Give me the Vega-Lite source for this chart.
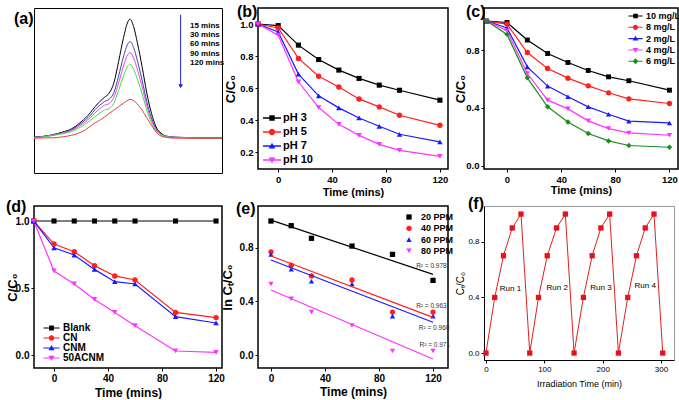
{
"$schema": "https://vega.github.io/schema/vega-lite/v6.json",
"padding": {"left": 5, "top": 3, "right": 0, "bottom": 0},
"autosize": {"type": "pad"},
"columns": 3,
"bounds": "flush",
"spacing": {"row": 33, "column": 36},
"resolve": {"scale": {"color": "independent", "shape": "independent"}, "legend": {"color": "independent", "shape": "independent"}},
"config": {
  "font": "Liberation Sans Narrow, Liberation Sans, sans-serif",
  "view": {"stroke": "black", "strokeWidth": 1.5},
  "axis": {"grid": false, "domain": false, "labelFontWeight": "bold", "titleFontWeight": "bold", "labelColor": "black", "titleColor": "black", "tickColor": "black", "labelFontSize": 9.5, "titleFontSize": 11, "tickSize": 3, "labelPadding": 2, "titlePadding": 2, "labelFont": "Liberation Sans Narrow, Liberation Sans, sans-serif", "titleFont": "Liberation Sans Narrow, Liberation Sans, sans-serif"},
  "legend": {"padding": 0, "labelFontWeight": "bold", "labelColor": "black", "title": null, "labelFont": "Liberation Sans Narrow, Liberation Sans, sans-serif"},
  "title": {"fontSize": 16, "fontWeight": "bold", "color": "black", "font": "Liberation Sans, sans-serif"}
},
"datasets": {
  "a": [
    {"wl":450,"abs":0.21,"t":"15 mins"},{"wl":470,"abs":0.225,"t":"15 mins"},{"wl":480,"abs":0.24,"t":"15 mins"},{"wl":490,"abs":0.26,"t":"15 mins"},{"wl":500,"abs":0.30,"t":"15 mins"},{"wl":505,"abs":0.325,"t":"15 mins"},{"wl":510,"abs":0.355,"t":"15 mins"},{"wl":515,"abs":0.39,"t":"15 mins"},{"wl":520,"abs":0.42,"t":"15 mins"},{"wl":525,"abs":0.445,"t":"15 mins"},{"wl":530,"abs":0.47,"t":"15 mins"},{"wl":535,"abs":0.53,"t":"15 mins"},{"wl":540,"abs":0.655,"t":"15 mins"},{"wl":545,"abs":0.79,"t":"15 mins"},{"wl":550,"abs":0.89,"t":"15 mins"},{"wl":552,"abs":0.905,"t":"15 mins"},{"wl":556,"abs":0.86,"t":"15 mins"},{"wl":560,"abs":0.765,"t":"15 mins"},{"wl":565,"abs":0.625,"t":"15 mins"},{"wl":570,"abs":0.47,"t":"15 mins"},{"wl":575,"abs":0.35,"t":"15 mins"},{"wl":580,"abs":0.27,"t":"15 mins"},{"wl":585,"abs":0.235,"t":"15 mins"},{"wl":590,"abs":0.218,"t":"15 mins"},{"wl":600,"abs":0.21,"t":"15 mins"},{"wl":650,"abs":0.205,"t":"15 mins"},
    {"wl":450,"abs":0.21,"t":"30 mins"},{"wl":470,"abs":0.2235,"t":"30 mins"},{"wl":480,"abs":0.237,"t":"30 mins"},{"wl":490,"abs":0.255,"t":"30 mins"},{"wl":500,"abs":0.291,"t":"30 mins"},{"wl":505,"abs":0.3135,"t":"30 mins"},{"wl":510,"abs":0.34,"t":"30 mins"},{"wl":515,"abs":0.372,"t":"30 mins"},{"wl":520,"abs":0.399,"t":"30 mins"},{"wl":525,"abs":0.42,"t":"30 mins"},{"wl":530,"abs":0.434,"t":"30 mins"},{"wl":535,"abs":0.473,"t":"30 mins"},{"wl":540,"abs":0.57,"t":"30 mins"},{"wl":545,"abs":0.68,"t":"30 mins"},{"wl":550,"abs":0.761,"t":"30 mins"},{"wl":552,"abs":0.773,"t":"30 mins"},{"wl":556,"abs":0.737,"t":"30 mins"},{"wl":560,"abs":0.66,"t":"30 mins"},{"wl":565,"abs":0.546,"t":"30 mins"},{"wl":570,"abs":0.42,"t":"30 mins"},{"wl":575,"abs":0.323,"t":"30 mins"},{"wl":580,"abs":0.259,"t":"30 mins"},{"wl":585,"abs":0.23,"t":"30 mins"},{"wl":590,"abs":0.216,"t":"30 mins"},{"wl":600,"abs":0.21,"t":"30 mins"},{"wl":650,"abs":0.205,"t":"30 mins"},
    {"wl":450,"abs":0.208,"t":"60 mins"},{"wl":470,"abs":0.222,"t":"60 mins"},{"wl":480,"abs":0.234,"t":"60 mins"},{"wl":490,"abs":0.25,"t":"60 mins"},{"wl":500,"abs":0.282,"t":"60 mins"},{"wl":505,"abs":0.302,"t":"60 mins"},{"wl":510,"abs":0.326,"t":"60 mins"},{"wl":515,"abs":0.354,"t":"60 mins"},{"wl":520,"abs":0.378,"t":"60 mins"},{"wl":525,"abs":0.398,"t":"60 mins"},{"wl":530,"abs":0.408,"t":"60 mins"},{"wl":535,"abs":0.445,"t":"60 mins"},{"wl":540,"abs":0.529,"t":"60 mins"},{"wl":545,"abs":0.626,"t":"60 mins"},{"wl":550,"abs":0.698,"t":"60 mins"},{"wl":552,"abs":0.708,"t":"60 mins"},{"wl":556,"abs":0.676,"t":"60 mins"},{"wl":560,"abs":0.608,"t":"60 mins"},{"wl":565,"abs":0.508,"t":"60 mins"},{"wl":570,"abs":0.396,"t":"60 mins"},{"wl":575,"abs":0.31,"t":"60 mins"},{"wl":580,"abs":0.253,"t":"60 mins"},{"wl":585,"abs":0.228,"t":"60 mins"},{"wl":590,"abs":0.216,"t":"60 mins"},{"wl":600,"abs":0.21,"t":"60 mins"},{"wl":650,"abs":0.205,"t":"60 mins"},
    {"wl":450,"abs":0.206,"t":"90 mins"},{"wl":470,"abs":0.22,"t":"90 mins"},{"wl":480,"abs":0.23,"t":"90 mins"},{"wl":490,"abs":0.244,"t":"90 mins"},{"wl":500,"abs":0.271,"t":"90 mins"},{"wl":505,"abs":0.288,"t":"90 mins"},{"wl":510,"abs":0.309,"t":"90 mins"},{"wl":515,"abs":0.332,"t":"90 mins"},{"wl":520,"abs":0.353,"t":"90 mins"},{"wl":525,"abs":0.37,"t":"90 mins"},{"wl":530,"abs":0.379,"t":"90 mins"},{"wl":535,"abs":0.41,"t":"90 mins"},{"wl":540,"abs":0.485,"t":"90 mins"},{"wl":545,"abs":0.568,"t":"90 mins"},{"wl":550,"abs":0.63,"t":"90 mins"},{"wl":552,"abs":0.639,"t":"90 mins"},{"wl":556,"abs":0.611,"t":"90 mins"},{"wl":560,"abs":0.552,"t":"90 mins"},{"wl":565,"abs":0.466,"t":"90 mins"},{"wl":570,"abs":0.37,"t":"90 mins"},{"wl":575,"abs":0.296,"t":"90 mins"},{"wl":580,"abs":0.247,"t":"90 mins"},{"wl":585,"abs":0.225,"t":"90 mins"},{"wl":590,"abs":0.215,"t":"90 mins"},{"wl":600,"abs":0.208,"t":"90 mins"},{"wl":650,"abs":0.204,"t":"90 mins"},
    {"wl":450,"abs":0.205,"t":"120 mins"},{"wl":470,"abs":0.207,"t":"120 mins"},{"wl":480,"abs":0.212,"t":"120 mins"},{"wl":490,"abs":0.222,"t":"120 mins"},{"wl":500,"abs":0.24,"t":"120 mins"},{"wl":505,"abs":0.255,"t":"120 mins"},{"wl":510,"abs":0.275,"t":"120 mins"},{"wl":515,"abs":0.295,"t":"120 mins"},{"wl":520,"abs":0.31,"t":"120 mins"},{"wl":525,"abs":0.33,"t":"120 mins"},{"wl":530,"abs":0.35,"t":"120 mins"},{"wl":535,"abs":0.37,"t":"120 mins"},{"wl":540,"abs":0.39,"t":"120 mins"},{"wl":545,"abs":0.41,"t":"120 mins"},{"wl":550,"abs":0.428,"t":"120 mins"},{"wl":552,"abs":0.433,"t":"120 mins"},{"wl":556,"abs":0.425,"t":"120 mins"},{"wl":560,"abs":0.405,"t":"120 mins"},{"wl":565,"abs":0.37,"t":"120 mins"},{"wl":570,"abs":0.325,"t":"120 mins"},{"wl":575,"abs":0.28,"t":"120 mins"},{"wl":580,"abs":0.24,"t":"120 mins"},{"wl":585,"abs":0.218,"t":"120 mins"},{"wl":590,"abs":0.21,"t":"120 mins"},{"wl":600,"abs":0.205,"t":"120 mins"},{"wl":650,"abs":0.204,"t":"120 mins"}
  ],
  "arrow": [{"wl": 606, "abs": 0.93, "abs2": 0.51}],
  "b": [
    {"t":-15,"v":1.0,"s":"pH 3"},{"t":0,"v":0.99,"s":"pH 3"},{"t":15,"v":0.868,"s":"pH 3"},{"t":30,"v":0.778,"s":"pH 3"},{"t":45,"v":0.712,"s":"pH 3"},{"t":60,"v":0.66,"s":"pH 3"},{"t":75,"v":0.618,"s":"pH 3"},{"t":90,"v":0.586,"s":"pH 3"},{"t":120,"v":0.524,"s":"pH 3"},
    {"t":-15,"v":1.0,"s":"pH 5"},{"t":0,"v":0.975,"s":"pH 5"},{"t":15,"v":0.785,"s":"pH 5"},{"t":30,"v":0.674,"s":"pH 5"},{"t":45,"v":0.607,"s":"pH 5"},{"t":60,"v":0.532,"s":"pH 5"},{"t":75,"v":0.482,"s":"pH 5"},{"t":90,"v":0.43,"s":"pH 5"},{"t":120,"v":0.367,"s":"pH 5"},
    {"t":-15,"v":1.0,"s":"pH 7"},{"t":0,"v":0.95,"s":"pH 7"},{"t":15,"v":0.687,"s":"pH 7"},{"t":30,"v":0.551,"s":"pH 7"},{"t":45,"v":0.476,"s":"pH 7"},{"t":60,"v":0.413,"s":"pH 7"},{"t":75,"v":0.361,"s":"pH 7"},{"t":90,"v":0.311,"s":"pH 7"},{"t":120,"v":0.263,"s":"pH 7"},
    {"t":-15,"v":1.0,"s":"pH 10"},{"t":0,"v":0.93,"s":"pH 10"},{"t":15,"v":0.639,"s":"pH 10"},{"t":30,"v":0.478,"s":"pH 10"},{"t":45,"v":0.373,"s":"pH 10"},{"t":60,"v":0.304,"s":"pH 10"},{"t":75,"v":0.248,"s":"pH 10"},{"t":90,"v":0.21,"s":"pH 10"},{"t":120,"v":0.173,"s":"pH 10"}
  ],
  "c": [
    {"t":-15,"v":1.0,"s":"10 mg/L"},{"t":0,"v":0.99,"s":"10 mg/L"},{"t":15,"v":0.869,"s":"10 mg/L"},{"t":30,"v":0.776,"s":"10 mg/L"},{"t":45,"v":0.714,"s":"10 mg/L"},{"t":60,"v":0.659,"s":"10 mg/L"},{"t":75,"v":0.615,"s":"10 mg/L"},{"t":90,"v":0.588,"s":"10 mg/L"},{"t":120,"v":0.523,"s":"10 mg/L"},
    {"t":-15,"v":1.0,"s":"8 mg/L"},{"t":0,"v":0.979,"s":"8 mg/L"},{"t":15,"v":0.783,"s":"8 mg/L"},{"t":30,"v":0.673,"s":"8 mg/L"},{"t":45,"v":0.606,"s":"8 mg/L"},{"t":60,"v":0.553,"s":"8 mg/L"},{"t":75,"v":0.505,"s":"8 mg/L"},{"t":90,"v":0.463,"s":"8 mg/L"},{"t":120,"v":0.431,"s":"8 mg/L"},
    {"t":-15,"v":1.0,"s":"2 mg/L"},{"t":0,"v":0.952,"s":"2 mg/L"},{"t":15,"v":0.684,"s":"2 mg/L"},{"t":30,"v":0.551,"s":"2 mg/L"},{"t":45,"v":0.477,"s":"2 mg/L"},{"t":60,"v":0.408,"s":"2 mg/L"},{"t":75,"v":0.357,"s":"2 mg/L"},{"t":90,"v":0.309,"s":"2 mg/L"},{"t":120,"v":0.297,"s":"2 mg/L"},
    {"t":-15,"v":1.0,"s":"4 mg/L"},{"t":0,"v":0.933,"s":"4 mg/L"},{"t":15,"v":0.638,"s":"4 mg/L"},{"t":30,"v":0.454,"s":"4 mg/L"},{"t":45,"v":0.394,"s":"4 mg/L"},{"t":60,"v":0.311,"s":"4 mg/L"},{"t":75,"v":0.258,"s":"4 mg/L"},{"t":90,"v":0.228,"s":"4 mg/L"},{"t":120,"v":0.212,"s":"4 mg/L"},
    {"t":-15,"v":1.0,"s":"6 mg/L"},{"t":0,"v":0.908,"s":"6 mg/L"},{"t":15,"v":0.608,"s":"6 mg/L"},{"t":30,"v":0.408,"s":"6 mg/L"},{"t":45,"v":0.304,"s":"6 mg/L"},{"t":60,"v":0.224,"s":"6 mg/L"},{"t":75,"v":0.173,"s":"6 mg/L"},{"t":90,"v":0.141,"s":"6 mg/L"},{"t":120,"v":0.129,"s":"6 mg/L"}
  ],
  "d": [
    {"t":-15,"v":1.0,"s":"Blank"},{"t":0,"v":1.0,"s":"Blank"},{"t":15,"v":1.0,"s":"Blank"},{"t":30,"v":1.0,"s":"Blank"},{"t":45,"v":1.0,"s":"Blank"},{"t":60,"v":1.0,"s":"Blank"},{"t":90,"v":1.0,"s":"Blank"},{"t":120,"v":1.0,"s":"Blank"},
    {"t":-15,"v":1.0,"s":"CN"},{"t":0,"v":0.828,"s":"CN"},{"t":15,"v":0.771,"s":"CN"},{"t":30,"v":0.667,"s":"CN"},{"t":45,"v":0.59,"s":"CN"},{"t":60,"v":0.56,"s":"CN"},{"t":90,"v":0.318,"s":"CN"},{"t":120,"v":0.279,"s":"CN"},
    {"t":-15,"v":1.0,"s":"CNM"},{"t":0,"v":0.80,"s":"CNM"},{"t":15,"v":0.746,"s":"CNM"},{"t":30,"v":0.639,"s":"CNM"},{"t":45,"v":0.547,"s":"CNM"},{"t":60,"v":0.53,"s":"CNM"},{"t":90,"v":0.286,"s":"CNM"},{"t":120,"v":0.239,"s":"CNM"},
    {"t":-15,"v":1.0,"s":"50ACNM"},{"t":0,"v":0.627,"s":"50ACNM"},{"t":15,"v":0.53,"s":"50ACNM"},{"t":30,"v":0.415,"s":"50ACNM"},{"t":45,"v":0.318,"s":"50ACNM"},{"t":60,"v":0.219,"s":"50ACNM"},{"t":90,"v":0.03,"s":"50ACNM"},{"t":120,"v":0.02,"s":"50ACNM"}
  ],
  "e": [
    {"t":0,"v":1.0,"s":"20 PPM"},{"t":15,"v":0.965,"s":"20 PPM"},{"t":30,"v":0.871,"s":"20 PPM"},{"t":60,"v":0.813,"s":"20 PPM"},{"t":90,"v":0.751,"s":"20 PPM"},{"t":120,"v":0.557,"s":"20 PPM"},
    {"t":0,"v":0.77,"s":"40 PPM"},{"t":15,"v":0.67,"s":"40 PPM"},{"t":30,"v":0.59,"s":"40 PPM"},{"t":60,"v":0.56,"s":"40 PPM"},{"t":90,"v":0.32,"s":"40 PPM"},{"t":120,"v":0.32,"s":"40 PPM"},
    {"t":0,"v":0.75,"s":"60 PPM"},{"t":15,"v":0.64,"s":"60 PPM"},{"t":30,"v":0.55,"s":"60 PPM"},{"t":60,"v":0.53,"s":"60 PPM"},{"t":90,"v":0.29,"s":"60 PPM"},{"t":120,"v":0.29,"s":"60 PPM"},
    {"t":0,"v":0.53,"s":"80 PPM"},{"t":15,"v":0.42,"s":"80 PPM"},{"t":30,"v":0.32,"s":"80 PPM"},{"t":60,"v":0.22,"s":"80 PPM"},{"t":90,"v":0.03,"s":"80 PPM"},{"t":120,"v":0.03,"s":"80 PPM"}
  ],
  "efit": [
    {"t":0,"v":1.007,"s":"20 PPM"},{"t":120,"v":0.602,"s":"20 PPM"},
    {"t":0,"v":0.739,"s":"40 PPM"},{"t":120,"v":0.281,"s":"40 PPM"},
    {"t":0,"v":0.709,"s":"60 PPM"},{"t":120,"v":0.244,"s":"60 PPM"},
    {"t":0,"v":0.485,"s":"80 PPM"},{"t":120,"v":-0.03,"s":"80 PPM"}
  ],
  "elab": [
    {"t":107.5,"v":0.664,"label":"R² = 0.978"},
    {"t":107.5,"v":0.366,"label":"R² = 0.963"},
    {"t":109.5,"v":0.199,"label":"R² = 0.960"},
    {"t":110,"v":0.075,"label":"R² = 0.971"}
  ],
  "f": [
    {"t":0,"v":0},{"t":15,"v":0.4},{"t":30,"v":0.7},{"t":45,"v":0.9},{"t":60,"v":1.0},
    {"t":75,"v":0},{"t":90,"v":0.4},{"t":105,"v":0.7},{"t":121,"v":0.9},{"t":136,"v":1.0},
    {"t":151,"v":0},{"t":167,"v":0.4},{"t":182,"v":0.7},{"t":197,"v":0.9},{"t":212,"v":1.0},
    {"t":227,"v":0},{"t":243,"v":0.4},{"t":258,"v":0.7},{"t":273,"v":0.9},{"t":288,"v":1.0},
    {"t":303,"v":0}
  ],
  "flab": [
    {"t":42,"v":0.46,"label":"Run 1"},
    {"t":122,"v":0.465,"label":"Run 2"},
    {"t":197,"v":0.47,"label":"Run 3"},
    {"t":273,"v":0.485,"label":"Run 4"}
  ]
},
"concat": [
  {
    "width": 188, "height": 165,
    "title": {"text": "(a)", "anchor": "start", "frame": "group", "offset": 0, "dx": -20, "dy": 19},
    "view": {"stroke": "black", "strokeWidth": 1},
    "layer": [
      {"data": {"name": "a"}, "mark": {"type": "line", "strokeWidth": 1, "interpolate": "monotone"},
       "encoding": {
         "x": {"field": "wl", "type": "quantitative", "scale": {"domain": [450, 650], "nice": false, "zero": false}, "axis": {"values": [450,500,550,600,650], "title": "Wavelength (nm)", "labelFontSize": 7, "titleFontSize": 8, "titleY": 12, "tickSize": 2}},
         "y": {"field": "abs", "type": "quantitative", "scale": {"domain": [0, 0.97], "nice": false}, "axis": {"labels": false, "ticks": false, "title": "Absorbance (a.u.)", "titleFontSize": 8.5, "titleX": -7.5}},
         "color": {"field": "t", "type": "nominal", "scale": {"domain": ["15 mins","30 mins","60 mins","90 mins","120 mins"], "range": ["#000000","#4040b0","#f040f0","#40e040","#e04040"]},
                   "legend": {"orient": "none", "legendX": 148, "legendY": 14, "symbolOpacity": 0, "symbolSize": 16, "labelOffset": 0, "labelFontSize": 8, "rowPadding": 1.2}}
       }},
      {"data": {"name": "arrow"}, "mark": {"type": "rule", "color": "#2020d0", "strokeWidth": 1},
       "encoding": {"x": {"field": "wl", "type": "quantitative", "axis": null}, "y": {"field": "abs", "type": "quantitative", "axis": null}, "y2": {"field": "abs2"}}},
      {"data": {"name": "arrow"}, "mark": {"type": "point", "shape": "triangle-down", "filled": true, "color": "#2020d0", "size": 22, "opacity": 1},
       "encoding": {"x": {"field": "wl", "type": "quantitative", "axis": null}, "y": {"field": "abs2", "type": "quantitative", "axis": null}}}
    ]
  },
  {
    "width": 190, "height": 161,
    "title": {"text": "(b)", "anchor": "start", "frame": "group", "offset": 0, "dx": -21, "dy": 12},
    "data": {"name": "b"},
    "layer": [
      {"mark": {"type": "point", "filled": true, "opacity": 0},
       "encoding": {
         "x": {"field": "t", "type": "quantitative", "scale": {"domain": [-15, 126], "nice": false, "zero": false}, "axis": {"values": [0,20,40,60,80,100,120], "title": "Time (mins)", "titleY": 17}},
         "y": {"field": "v", "type": "quantitative", "scale": {"domain": [0.094, 1.1], "nice": false, "zero": false}, "axis": {"values": [0.2,0.4,0.6,0.8,1.0], "format": ".1f", "title": "C/C₀", "titleFontSize": 13, "titleX": -20.5}},
         "color": {"field": "s", "type": "nominal", "scale": {"domain": ["pH 3","pH 5","pH 7","pH 10"], "range": ["#000000","#ff2020","#1a1aff","#ff33ff"]},
                   "legend": {"orient": "none", "legendX": 8.5, "legendY": 104.5, "symbolSize": 81, "symbolOpacity": 1, "symbolStrokeWidth": 0, "labelOffset": 5.5, "labelFontSize": 11, "rowPadding": 2}},
         "shape": {"field": "s", "type": "nominal", "scale": {"domain": ["pH 3","pH 5","pH 7","pH 10"], "range": [
             "M-2,-0.15H2V0.15H-2ZM-0.6,-0.6H0.6V0.6H-0.6Z",
             "M-2,-0.15H2V0.15H-2ZM-0.7,0A0.7,0.7 0 1,1 0.7,0A0.7,0.7 0 1,1 -0.7,0Z",
             "M-2,-0.15H2V0.15H-2ZM0,-0.75L0.75,0.55L-0.75,0.55Z",
             "M-2,-0.15H2V0.15H-2ZM-0.75,-0.55L0.75,-0.55L0,0.75Z"]},
                   "legend": {"orient": "none", "legendX": 8.5, "legendY": 104.5, "symbolSize": 81, "symbolOpacity": 1, "symbolStrokeWidth": 0, "labelOffset": 5.5, "labelFontSize": 11, "rowPadding": 2}}
       }},
      {"mark": {"type": "line", "strokeWidth": 1.2},
       "encoding": {"x": {"field": "t", "type": "quantitative"}, "y": {"field": "v", "type": "quantitative"}, "color": {"field": "s", "type": "nominal", "legend": null}}},
      {"transform": [{"filter": "datum.s == 'pH 3'"}], "mark": {"type": "point", "shape": "square", "filled": true, "size": 26, "opacity": 1},
       "encoding": {"x": {"field": "t", "type": "quantitative"}, "y": {"field": "v", "type": "quantitative"}, "color": {"field": "s", "type": "nominal", "legend": null}}},
      {"transform": [{"filter": "datum.s == 'pH 5'"}], "mark": {"type": "point", "shape": "circle", "filled": true, "size": 30, "opacity": 1},
       "encoding": {"x": {"field": "t", "type": "quantitative"}, "y": {"field": "v", "type": "quantitative"}, "color": {"field": "s", "type": "nominal", "legend": null}}},
      {"transform": [{"filter": "datum.s == 'pH 7'"}], "mark": {"type": "point", "shape": "triangle-up", "filled": true, "size": 30, "opacity": 1},
       "encoding": {"x": {"field": "t", "type": "quantitative"}, "y": {"field": "v", "type": "quantitative"}, "color": {"field": "s", "type": "nominal", "legend": null}}},
      {"transform": [{"filter": "datum.s == 'pH 10'"}], "mark": {"type": "point", "shape": "triangle-down", "filled": true, "size": 30, "opacity": 1},
       "encoding": {"x": {"field": "t", "type": "quantitative"}, "y": {"field": "v", "type": "quantitative"}, "color": {"field": "s", "type": "nominal", "legend": null}}}
    ]
  },
  {
    "width": 194, "height": 161,
    "title": {"text": "(c)", "anchor": "start", "frame": "group", "offset": 0, "dx": -18, "dy": 12},
    "data": {"name": "c"},
    "layer": [
      {"mark": {"type": "point", "filled": true, "opacity": 0},
       "encoding": {
         "x": {"field": "t", "type": "quantitative", "scale": {"domain": [-17, 126.3], "nice": false, "zero": false}, "axis": {"values": [0,20,40,60,80,100,120], "title": "Time (mins)", "titleY": 15}},
         "y": {"field": "v", "type": "quantitative", "scale": {"domain": [-0.021, 1.09], "nice": false, "zero": false}, "axis": {"values": [0,0.2,0.4,0.6,0.8,1.0], "format": ".1f", "title": "C/C₀", "titleFontSize": 13, "titleX": -16.5}},
         "color": {"field": "s", "type": "nominal", "scale": {"domain": ["10 mg/L","8 mg/L","2 mg/L","4 mg/L","6 mg/L"], "range": ["#000000","#ff2020","#1a1aff","#ff33ff","#1e8c1e"]},
                   "legend": {"orient": "none", "legendX": 147, "legendY": 3.5, "symbolSize": 49, "symbolOpacity": 1, "symbolStrokeWidth": 0, "labelOffset": 6, "labelFontSize": 9, "rowPadding": 1.3}},
         "shape": {"field": "s", "type": "nominal", "scale": {"domain": ["10 mg/L","8 mg/L","2 mg/L","4 mg/L","6 mg/L"], "range": [
             "M-2,-0.15H2V0.15H-2ZM-0.65,-0.65H0.65V0.65H-0.65Z",
             "M-2,-0.15H2V0.15H-2ZM-0.75,0A0.75,0.75 0 1,1 0.75,0A0.75,0.75 0 1,1 -0.75,0Z",
             "M-2,-0.15H2V0.15H-2ZM0,-0.8L0.8,0.55L-0.8,0.55Z",
             "M-2,-0.15H2V0.15H-2ZM-0.8,-0.55L0.8,-0.55L0,0.8Z",
             "M-2,-0.15H2V0.15H-2ZM0,-0.85L0.85,0L0,0.85L-0.85,0Z"]},
                   "legend": {"orient": "none", "legendX": 147, "legendY": 3.5, "symbolSize": 49, "symbolOpacity": 1, "symbolStrokeWidth": 0, "labelOffset": 6, "labelFontSize": 9, "rowPadding": 1.3}}
       }},
      {"mark": {"type": "line", "strokeWidth": 1.2},
       "encoding": {"x": {"field": "t", "type": "quantitative"}, "y": {"field": "v", "type": "quantitative"}, "color": {"field": "s", "type": "nominal", "legend": null}}},
      {"transform": [{"filter": "datum.s == '10 mg/L'"}], "mark": {"type": "point", "shape": "square", "filled": true, "size": 24, "opacity": 1},
       "encoding": {"x": {"field": "t", "type": "quantitative"}, "y": {"field": "v", "type": "quantitative"}, "color": {"field": "s", "type": "nominal", "legend": null}}},
      {"transform": [{"filter": "datum.s == '8 mg/L'"}], "mark": {"type": "point", "shape": "circle", "filled": true, "size": 28, "opacity": 1},
       "encoding": {"x": {"field": "t", "type": "quantitative"}, "y": {"field": "v", "type": "quantitative"}, "color": {"field": "s", "type": "nominal", "legend": null}}},
      {"transform": [{"filter": "datum.s == '2 mg/L'"}], "mark": {"type": "point", "shape": "triangle-up", "filled": true, "size": 28, "opacity": 1},
       "encoding": {"x": {"field": "t", "type": "quantitative"}, "y": {"field": "v", "type": "quantitative"}, "color": {"field": "s", "type": "nominal", "legend": null}}},
      {"transform": [{"filter": "datum.s == '4 mg/L'"}], "mark": {"type": "point", "shape": "triangle-down", "filled": true, "size": 28, "opacity": 1},
       "encoding": {"x": {"field": "t", "type": "quantitative"}, "y": {"field": "v", "type": "quantitative"}, "color": {"field": "s", "type": "nominal", "legend": null}}},
      {"transform": [{"filter": "datum.s == '6 mg/L'"}], "mark": {"type": "point", "shape": "diamond", "filled": true, "size": 30, "opacity": 1},
       "encoding": {"x": {"field": "t", "type": "quantitative"}, "y": {"field": "v", "type": "quantitative"}, "color": {"field": "s", "type": "nominal", "legend": null}}}
    ]
  },
  {
    "width": 188, "height": 162,
    "title": {"text": "(d)", "anchor": "start", "frame": "group", "offset": 0, "dx": -28, "dy": 9},
    "data": {"name": "d"},
    "layer": [
      {"mark": {"type": "point", "filled": true, "opacity": 0},
       "encoding": {
         "x": {"field": "t", "type": "quantitative", "scale": {"domain": [-14.8, 124.4], "nice": false, "zero": false}, "axis": {"values": [0,20,40,60,80,100,120], "title": "Time (mins)", "titleFontSize": 12, "labelFontSize": 10, "titleY": 19}},
         "y": {"field": "v", "type": "quantitative", "scale": {"domain": [-0.097, 1.112], "nice": false, "zero": false}, "axis": {"values": [0,0.5,1.0], "format": ".1f", "title": "C/C₀", "titleFontSize": 13, "labelFontSize": 10, "titleX": -15}},
         "color": {"field": "s", "type": "nominal", "scale": {"domain": ["Blank","CN","CNM","50ACNM"], "range": ["#000000","#ff2020","#1a1aff","#ff33ff"]},
                   "legend": {"orient": "none", "legendX": 12.5, "legendY": 117, "symbolSize": 64, "symbolOpacity": 1, "symbolStrokeWidth": 0, "labelOffset": 6.5, "labelFontSize": 10, "rowPadding": 0}},
         "shape": {"field": "s", "type": "nominal", "scale": {"domain": ["Blank","CN","CNM","50ACNM"], "range": [
             "M-2,-0.15H2V0.15H-2ZM-0.6,-0.6H0.6V0.6H-0.6Z",
             "M-2,-0.15H2V0.15H-2ZM-0.7,0A0.7,0.7 0 1,1 0.7,0A0.7,0.7 0 1,1 -0.7,0Z",
             "M-2,-0.15H2V0.15H-2ZM0,-0.75L0.75,0.55L-0.75,0.55Z",
             "M-2,-0.15H2V0.15H-2ZM-0.75,-0.55L0.75,-0.55L0,0.75Z"]},
                   "legend": {"orient": "none", "legendX": 12.5, "legendY": 117, "symbolSize": 64, "symbolOpacity": 1, "symbolStrokeWidth": 0, "labelOffset": 6.5, "labelFontSize": 10, "rowPadding": 0}}
       }},
      {"mark": {"type": "line", "strokeWidth": 1.2},
       "encoding": {"x": {"field": "t", "type": "quantitative"}, "y": {"field": "v", "type": "quantitative"}, "color": {"field": "s", "type": "nominal", "legend": null}}},
      {"transform": [{"filter": "datum.s == 'Blank'"}], "mark": {"type": "point", "shape": "square", "filled": true, "size": 26, "opacity": 1},
       "encoding": {"x": {"field": "t", "type": "quantitative"}, "y": {"field": "v", "type": "quantitative"}, "color": {"field": "s", "type": "nominal", "legend": null}}},
      {"transform": [{"filter": "datum.s == 'CN'"}], "mark": {"type": "point", "shape": "circle", "filled": true, "size": 30, "opacity": 1},
       "encoding": {"x": {"field": "t", "type": "quantitative"}, "y": {"field": "v", "type": "quantitative"}, "color": {"field": "s", "type": "nominal", "legend": null}}},
      {"transform": [{"filter": "datum.s == 'CNM'"}], "mark": {"type": "point", "shape": "triangle-up", "filled": true, "size": 30, "opacity": 1},
       "encoding": {"x": {"field": "t", "type": "quantitative"}, "y": {"field": "v", "type": "quantitative"}, "color": {"field": "s", "type": "nominal", "legend": null}}},
      {"transform": [{"filter": "datum.s == '50ACNM'"}], "mark": {"type": "point", "shape": "triangle-down", "filled": true, "size": 30, "opacity": 1},
       "encoding": {"x": {"field": "t", "type": "quantitative"}, "y": {"field": "v", "type": "quantitative"}, "color": {"field": "s", "type": "nominal", "legend": null}}}
    ]
  },
  {
    "width": 190, "height": 162,
    "title": {"text": "(e)", "anchor": "start", "frame": "group", "offset": 0, "dx": -22, "dy": 11},
    "layer": [
      {"data": {"name": "e"}, "mark": {"type": "point", "filled": true, "size": 28, "opacity": 1},
       "encoding": {
         "x": {"field": "t", "type": "quantitative", "scale": {"domain": [-9.6, 131.1], "nice": false, "zero": false}, "axis": {"values": [0,20,40,60,80,100,120], "title": "Time (mins)", "titleFontSize": 12, "labelFontSize": 10, "titleY": 18.5}},
         "y": {"field": "v", "type": "quantitative", "scale": {"domain": [-0.097, 1.112], "nice": false, "zero": false}, "axis": {"values": [0,0.2,0.4,0.6,0.8,1.0], "format": ".1f", "title": "ln Cₜ/C₀", "titleFontSize": 13, "labelFontSize": 10, "titleX": -23.5}},
         "color": {"field": "s", "type": "nominal", "scale": {"domain": ["20 PPM","40 PPM","60 PPM","80 PPM"], "range": ["#000000","#ff2020","#1a1aff","#ff33ff"]},
                   "legend": {"orient": "none", "legendX": 146.5, "legendY": 6.5, "symbolSize": 28, "symbolOpacity": 1, "symbolStrokeWidth": 0, "labelOffset": 7.5, "labelFontSize": 9, "rowPadding": 1.3}},
         "shape": {"field": "s", "type": "nominal", "scale": {"domain": ["20 PPM","40 PPM","60 PPM","80 PPM"], "range": ["square","circle","triangle-up","triangle-down"]},
                   "legend": {"orient": "none", "legendX": 146.5, "legendY": 6.5, "symbolSize": 28, "symbolOpacity": 1, "symbolStrokeWidth": 0, "labelOffset": 7.5, "labelFontSize": 9, "rowPadding": 1.3}}
       }},
      {"data": {"name": "efit"}, "mark": {"type": "line", "strokeWidth": 1.2},
       "encoding": {"x": {"field": "t", "type": "quantitative"}, "y": {"field": "v", "type": "quantitative"}, "color": {"field": "s", "type": "nominal", "legend": null}}},
      {"data": {"name": "elab"}, "mark": {"type": "text", "fontSize": 6.5, "align": "left", "color": "#333333"},
       "encoding": {"x": {"field": "t", "type": "quantitative"}, "y": {"field": "v", "type": "quantitative"}, "text": {"field": "label"}}}
    ]
  },
  {
    "width": 190, "height": 154,
    "title": {"text": "(f)", "anchor": "start", "frame": "group", "offset": 0, "dx": -16, "dy": 6},
    "view": {"stroke": "#999999", "strokeWidth": 1},
    "layer": [
      {"data": {"name": "f"}, "mark": {"type": "line", "color": "#e02020", "strokeWidth": 1, "point": {"shape": "square", "filled": true, "size": 28, "color": "#e8101a", "opacity": 1}},
       "encoding": {
         "x": {"field": "t", "type": "quantitative", "scale": {"domain": [-3.4, 322.3], "nice": false, "zero": false}, "axis": {"values": [0,50,100,150,200,250,300], "title": "Irradiation Time (min)", "domain": true, "domainColor": "black", "labelFontWeight": "normal", "titleFontWeight": "normal", "labelFontSize": 8, "titleFontSize": 9, "titleY": 19}},
         "y": {"field": "v", "type": "quantitative", "scale": {"domain": [-0.05, 1.058], "nice": false, "zero": false}, "axis": {"values": [0,0.2,0.4,0.6,0.8,1.0], "format": ".1f", "title": "Cₜ/C₀", "domain": true, "domainColor": "black", "labelFontWeight": "normal", "titleFontWeight": "normal", "labelFontSize": 8, "titleFontSize": 10, "titleX": -18.5}}
       }},
      {"data": {"name": "flab"}, "mark": {"type": "text", "fontSize": 8, "color": "black"},
       "encoding": {"x": {"field": "t", "type": "quantitative"}, "y": {"field": "v", "type": "quantitative"}, "text": {"field": "label"}}}
    ]
  }
]
}
